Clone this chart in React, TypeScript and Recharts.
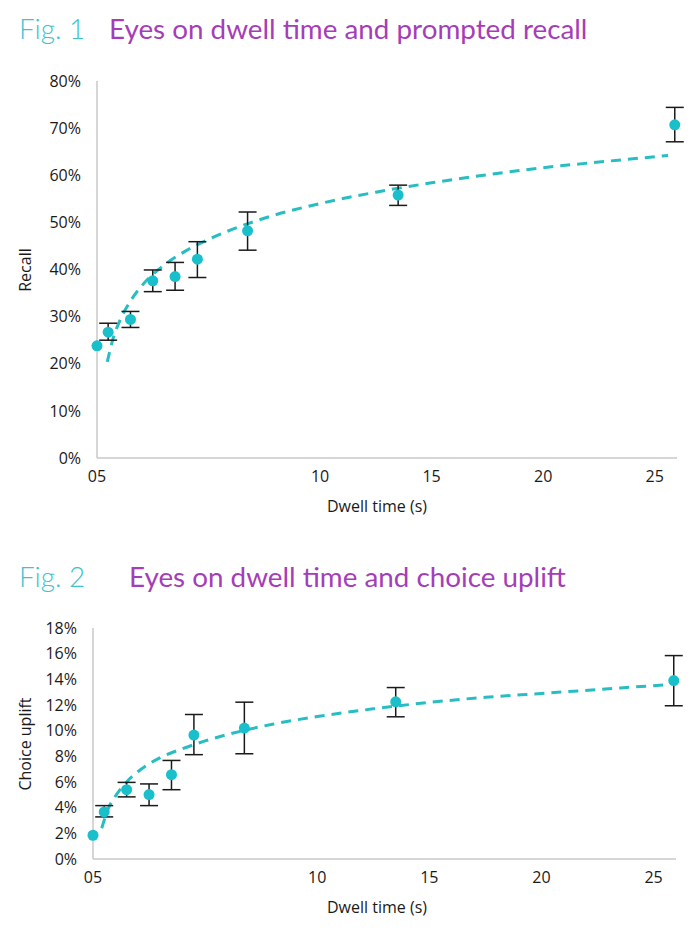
import React from 'react';
import { ComposedChart, Scatter, Line, XAxis, YAxis, ErrorBar, Label } from 'recharts';

// Dwell time (s) for each measured point
const dwellTimes = [0, 0.5, 1.5, 2.5, 3.5, 4.5, 6.75, 13.5, 25.9];

// Fig. 1 – prompted recall (%)
const recall = [23.8, 26.7, 29.4, 37.6, 38.5, 42.2, 48.2, 55.8, 70.7];
const recallLow = [null, 25.0, 27.7, 35.3, 35.6, 38.3, 44.1, 53.6, 67.1];
const recallHigh = [null, 28.6, 31.1, 39.9, 41.5, 45.9, 52.2, 57.9, 74.4];

// Fig. 2 – choice uplift (%)
const uplift = [1.85, 3.67, 5.4, 5.02, 6.57, 9.66, 10.2, 12.25, 13.9];
const upliftLow = [null, 3.28, 4.84, 4.16, 5.4, 8.13, 8.2, 11.08, 11.94];
const upliftHigh = [null, 4.16, 5.97, 5.85, 7.68, 11.26, 12.22, 13.36, 15.85];

// Dashed trend lines
const recallTrendX = [0.46, 0.75, 1, 1.5, 2, 3, 4, 5, 6, 8, 10, 12.5, 15, 17.5, 20, 22.5, 25.6];
const recallTrend = [20.4, 25.8, 28.9, 33.3, 36.5, 40.9, 44.0, 46.4, 48.4, 51.6, 54.0, 56.4, 58.4, 60.1, 61.6, 62.8, 64.2];
const upliftTrendX = [0.39, 0.75, 1, 1.5, 2, 3, 4, 5, 6, 8, 10, 12.5, 15, 17.5, 20, 22.5, 25.7];
const upliftTrend = [2.4, 4.2, 4.9, 6.0, 6.8, 7.9, 8.6, 9.2, 9.7, 10.5, 11.1, 11.7, 12.2, 12.6, 12.9, 13.2, 13.6];

// Axis ticks
const xTicks = [0, 10, 15, 20, 25];
const recallTicks = [0, 10, 20, 30, 40, 50, 60, 70, 80];
const upliftTicks = [0, 2, 4, 6, 8, 10, 12, 14, 16, 18];

const TEAL = '#19bfcb';
const LINE_TEAL = '#27bdc2';
const PURPLE = '#a63db8';
const TEXT = '#1a1a1a';
const AXIS = '#c9c9c9';
const TICK_FONT = '"Open Sans", sans-serif';
const LABEL_FONT = '"Open Sans", sans-serif';

function buildPoints(vals: number[], low: (number | null)[], high: (number | null)[]) {
  return dwellTimes.map((x, i) => ({
    x,
    y: vals[i],
    err: low[i] == null || high[i] == null ? undefined : [vals[i] - (low[i] as number), (high[i] as number) - vals[i]],
  }));
}

function buildTrend(xs: number[], ys: number[]) {
  return xs.map((x, i) => ({ x, y: ys[i] }));
}

type PanelProps = {
  top: number;
  height: number;
  margin: { top: number; right: number; bottom: number; left: number };
  points: any[];
  trend: any[];
  yDomain: [number, number];
  yTicks: number[];
  yLabel: string;
  yLabelPos: [number, number];
  xLabelPos: [number, number];
};

function Panel(p: PanelProps) {
  return (
    <div style={{ position: 'absolute', left: 0, top: p.top }}>
      <ComposedChart width={700} height={p.height} margin={p.margin}>
        <XAxis
          type="number"
          dataKey="x"
          domain={[0, 26]}
          ticks={xTicks}
          interval={0}
          tickFormatter={(v: number) => (v === 0 ? '05' : String(v))}
          axisLine={{ stroke: AXIS, strokeWidth: 1.5 }}
          tickLine={false}
          tickSize={0}
          tickMargin={13}
          height={60}
          tick={{ fill: TEXT, fontSize: 16, fontWeight: 500, style: { fontFamily: TICK_FONT } }}
        >
          <Label
            content={() => (
              <text
                x={p.xLabelPos[0]}
                y={p.xLabelPos[1]}
                textAnchor="middle"
                dominantBaseline="central"
                fontSize={16}
                fontWeight={500}
                style={{ fontFamily: LABEL_FONT }}
                fill={TEXT}
              >
                Dwell time (s)
              </text>
            )}
          />
        </XAxis>
        <YAxis
          type="number"
          dataKey="y"
          domain={p.yDomain}
          ticks={p.yTicks}
          interval={0}
          tickFormatter={(v: number) => `${v}%`}
          axisLine={{ stroke: AXIS, strokeWidth: 1.5 }}
          tickLine={false}
          tickSize={0}
          tickMargin={16}
          width={60}
          tick={{ fill: TEXT, fontSize: 16, fontWeight: 500, style: { fontFamily: TICK_FONT } }}
        >
          <Label
            content={() => (
              <text
                x={p.yLabelPos[0]}
                y={p.yLabelPos[1]}
                transform={`rotate(-90, ${p.yLabelPos[0]}, ${p.yLabelPos[1]})`}
                textAnchor="middle"
                dominantBaseline="central"
                fontSize={16}
                fontWeight={500}
                style={{ fontFamily: LABEL_FONT }}
                fill={TEXT}
              >
                {p.yLabel}
              </text>
            )}
          />
        </YAxis>
        <Line
          data={p.trend}
          dataKey="y"
          type="monotone"
          stroke={LINE_TEAL}
          strokeWidth={3}
          strokeDasharray="10 7"
          dot={false}
          activeDot={false}
          isAnimationActive={false}
        />
        <Scatter data={p.points} dataKey="y" fill={TEAL} isAnimationActive={false} shape={(sp: any) => <circle cx={sp.cx} cy={sp.cy} r={5.5} fill={TEAL} />}>
          <ErrorBar dataKey="err" direction="y" width={9} stroke="#1a1a1a" strokeWidth={1.5} isAnimationActive={false} />
        </Scatter>
      </ComposedChart>
    </div>
  );
}

function Title({ top, fig, text, textLeft }: { top: number; fig: string; text: string; textLeft: number }) {
  return (
    <div style={{ position: 'absolute', top, left: 0, width: 700, height: 40, fontFamily: 'Lato, sans-serif', fontSize: 27.8, lineHeight: '40px', whiteSpace: 'nowrap' }}>
      <span style={{ position: 'absolute', left: 19, color: '#3fc4cc', fontWeight: 300 }}>{fig}</span>
      <span style={{ position: 'absolute', left: textLeft, color: PURPLE }}>{text}</span>
    </div>
  );
}

export default function App() {
  const points1 = buildPoints(recall, recallLow, recallHigh);
  const points2 = buildPoints(uplift, upliftLow, upliftHigh);
  const trend1 = buildTrend(recallTrendX, recallTrend);
  const trend2 = buildTrend(upliftTrendX, upliftTrend);
  return (
    <div style={{ position: 'absolute', left: 0, top: 0, width: 700, height: 939, background: '#fff', overflow: 'hidden' }}>
      <Title top={9} fig="Fig. 1" text="Eyes on dwell time and prompted recall" textLeft={109} />
      <Panel
        top={0}
        height={530}
        margin={{ top: 81, right: 23, bottom: 12, left: 37 }}
        points={points1}
        trend={trend1}
        yDomain={[0, 80]}
        yTicks={recallTicks}
        yLabel="Recall"
        yLabelPos={[25, 270]}
        xLabelPos={[377, 506]}
      />
      <Title top={557} fig="Fig. 2" text="Eyes on dwell time and choice uplift" textLeft={129} />
      <Panel
        top={540}
        height={399}
        margin={{ top: 88, right: 24, bottom: 20, left: 33 }}
        points={points2}
        trend={trend2}
        yDomain={[0, 18]}
        yTicks={upliftTicks}
        yLabel="Choice uplift"
        yLabelPos={[25, 204]}
        xLabelPos={[377, 367]}
      />
    </div>
  );
}
